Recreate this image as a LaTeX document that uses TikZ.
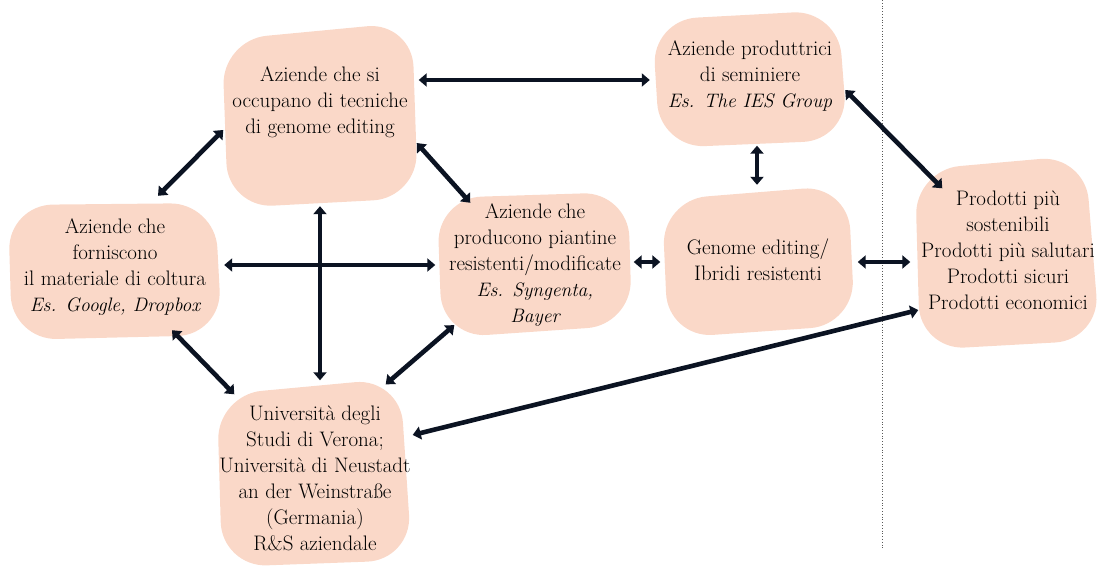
\documentclass[tikz,border=0pt]{standalone}
\usepackage{fontspec}
\usetikzlibrary{arrows.meta,calc,backgrounds}
\definecolor{blobfill}{HTML}{FAD8C8}
\definecolor{arrowcol}{HTML}{0B1322}
\newcommand{\exl}[1]{{\fontsize{19.5bp}{26bp}\selectfont\itshape #1}}
\tikzset{
  blob/.style={fill=blobfill, rounded corners=45bp},
  txt/.style={align=center, font=\fontsize{21bp}{26bp}\selectfont, inner sep=0pt},
  link/.style={draw=arrowcol, line width=4.6bp,
    {Triangle[width=13bp,length=8bp]}-{Triangle[width=13bp,length=8bp]}},
}
\begin{document}
\begin{tikzpicture}[x=1bp,y=-1bp]
\useasboundingbox (0,0) rectangle (1108,569);
% blobs
\fill[blob] (222,40) -- (412,22) -- (418,198) -- (228,208) -- cycle;
\fill[blob] (652,20) -- (838,10) -- (848,140) -- (660,148) -- cycle;
\fill[blob] (8,205) -- (215,203) -- (222,335) -- (12,340) -- cycle;
\fill[blob] (437,198) -- (628,192) -- (632,325) -- (442,338) -- cycle;
\fill[blob] (662,200) -- (848,185) -- (855,325) -- (668,338) -- cycle;
\fill[blob] (915,170) -- (1085,155) -- (1100,340) -- (920,350) -- cycle;
\fill[blob] (217,395) -- (400,378) -- (412,560) -- (222,567) -- cycle;
% invisible boxes
\node[inner sep=0pt, minimum width=195bp, minimum height=180bp] (A) at (320,115) {};
\node[inner sep=0pt, minimum width=196bp, minimum height=137bp] (B) at (750,77) {};
\node[inner sep=0pt, minimum width=214bp, minimum height=140bp] (C) at (115,270) {};
\node[inner sep=0pt, minimum width=195bp, minimum height=142bp] (D) at (535,264) {};
\node[inner sep=0pt, minimum width=193bp, minimum height=150bp] (E) at (758,260) {};
\node[inner sep=0pt, minimum width=185bp, minimum height=195bp] (F) at (1008,252) {};
\node[inner sep=0pt, minimum width=195bp, minimum height=185bp] (G) at (315,472) {};
% texts
\node[txt] (At) at (320,102) {Aziende che si\\occupano di tecniche\\di genome editing};
\node[txt] (Bt) at (750,76) {Aziende produttrici\\di seminiere\\\exl{Es. The IES Group}};
\node[txt] (Ct) at (115,267) {Aziende che\\forniscono\\il materiale di coltura\\\exl{Es. Google, Dropbox}};
\node[txt] (Dt) at (535,265) {Aziende che\\producono piantine\\resistenti/modificate\\\exl{Es. Syngenta,}\\\exl{Bayer}};
\node[txt] (Et) at (758,260) {Genome editing/\\Ibridi resistenti};
\node[txt] (Ft) at (1008,250) {Prodotti più\\sostenibili\\Prodotti più salutari\\Prodotti sicuri\\Prodotti economici};
\node[txt] (Gt) at (315,478) {Università degli\\Studi di Verona;\\Università di Neustadt\\an der Weinstraße\\(Germania)\\R\&S aziendale};
% divider
\coordinate (dtop) at (882,0);
\coordinate (dbot) at (882,550);
\draw[gray!70!black, line width=0.8bp, dotted] (dtop) -- (dbot);
% connectors
\draw[link] ($(A.east)+(1,-35)$) -- ($(B.west)+(-2,3)$);
\draw[link] ($(A.west)+(1,15)$) -- ($(C.north)+(43,-4)$);
\draw[link] ($(A.east)+(-1,28)$) -- ($(D.north west)+(33,10)$);
\draw[link] ($(A.south)+(0,1)$) -- ($(G.north)+(5,1)$);
\draw[link] ($(C.east)+(2,-5)$) -- ($(D.west)+(-2,1)$);
\draw[link] ($(C.south)+(57,-10)$) -- ($(G.north west)+(17,15)$);
\draw[link] ($(D.south west)+(17,-10)$) -- ($(G.north east)+(-27,5)$);
\draw[link] ($(D.east)+(1,-2)$) -- ($(E.west)+(-1,2)$);
\draw[link] ($(B.south)+(7,0)$) -- ($(E.north)+(-1,0)$);
\draw[link] ($(E.east)+(3,2)$) -- ($(F.west)+(-5,10)$);
\draw[link] ($(B.east)+(-3,13)$) -- ($(F.north west)+(27,34)$);
\draw[link] ($(G.east)+(0,-37)$) -- ($(F.west)+(3,58)$);
\end{tikzpicture}
\end{document}
